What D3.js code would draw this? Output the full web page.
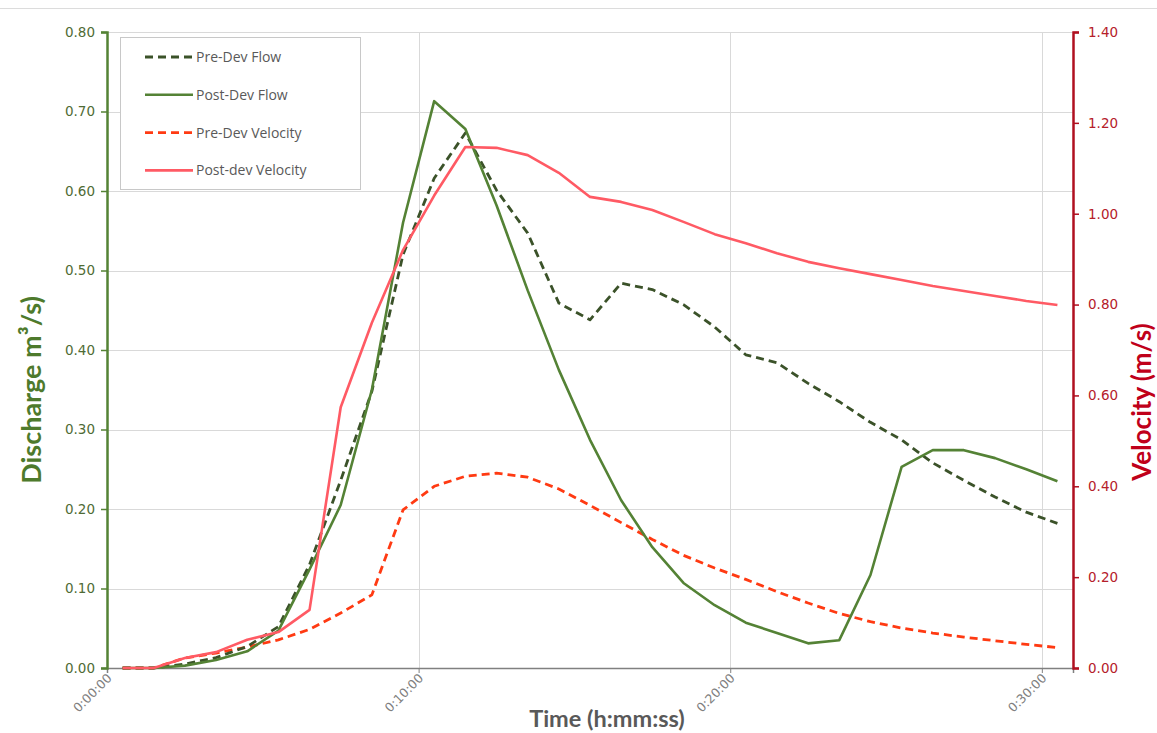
<!DOCTYPE html>
<html>
<head>
<meta charset="utf-8">
<script src="https://cdn.jsdelivr.net/npm/d3@7"></script>
<style>
  html, body { margin: 0; padding: 0; background: #fff; }
  svg { display: block; }
</style>
</head>
<body>
<div id="chart"></div>
<script>
// time of each sample, minutes
const timeMin = [0.5, 1.5, 2.5, 3.5, 4.5, 5.5, 6.5, 7.5, 8.5, 9.5, 10.5, 11.5, 12.5, 13.5, 14.5, 15.5,
  16.5, 17.5, 18.5, 19.5, 20.5, 21.5, 22.5, 23.5, 24.5, 25.5, 26.5, 27.5, 28.5, 29.5, 30.5];

// discharge m3/s
const preDevFlow = [0, 0, 0.005, 0.013, 0.027, 0.052, 0.13, 0.236, 0.348, 0.52, 0.616, 0.673, 0.601, 0.547,
  0.459, 0.438, 0.484, 0.476, 0.457, 0.429, 0.394, 0.384, 0.358, 0.335, 0.309, 0.287, 0.258, 0.236, 0.215, 0.196, 0.182];
const postDevFlow = [0, 0, 0.003, 0.01, 0.021, 0.047, 0.124, 0.205, 0.35, 0.56, 0.713, 0.678, 0.582, 0.475,
  0.375, 0.287, 0.211, 0.152, 0.107, 0.079, 0.057, 0.044, 0.031, 0.035, 0.117, 0.253, 0.274, 0.274, 0.264, 0.25, 0.235];

// velocity m/s
const preDevVel = [0, 0, 0.022, 0.033, 0.046, 0.062, 0.085, 0.121, 0.161, 0.348, 0.40, 0.422, 0.429, 0.42,
  0.394, 0.358, 0.32, 0.283, 0.248, 0.22, 0.195, 0.168, 0.143, 0.12, 0.102, 0.088, 0.077, 0.068, 0.06, 0.052, 0.045];
const postDevVel = [0, 0, 0.022, 0.035, 0.062, 0.079, 0.128, 0.574, 0.76, 0.92, 1.04, 1.147, 1.145, 1.129,
  1.09, 1.037, 1.026, 1.008, 0.982, 0.955, 0.935, 0.913, 0.894, 0.88, 0.867, 0.854, 0.841, 0.83, 0.819, 0.808, 0.799];

const flowTicks = [0, 0.1, 0.2, 0.3, 0.4, 0.5, 0.6, 0.7, 0.8];
const velTicks = [0, 0.2, 0.4, 0.6, 0.8, 1.0, 1.2, 1.4];
const timeTicks = [0, 10, 20, 30];
const timeLabels = ["0:00:00", "0:10:00", "0:20:00", "0:30:00"];

const W = 1157, H = 733;
const m = { left: 107, right: 1073, top: 32, bottom: 668 };

const svg = d3.select("#chart").append("svg").attr("width", W).attr("height", H);

const x = d3.scaleLinear().domain([0, 31]).range([m.left, m.right]);
const yF = d3.scaleLinear().domain([0, 0.8]).range([m.bottom, m.top]);
const yV = d3.scaleLinear().domain([0, 1.4]).range([m.bottom, m.top]);

// frame line at top
svg.append("line").attr("x1", 0).attr("x2", W).attr("y1", 8.5).attr("y2", 8.5)
  .attr("stroke", "#dcdcdc").attr("stroke-width", 1);

// gridlines
const grid = svg.append("g").attr("stroke", "#d9d9d9").attr("stroke-width", 1);
grid.selectAll(".h").data(flowTicks.filter(d => d > 0)).join("line")
  .attr("x1", m.left).attr("x2", m.right)
  .attr("y1", d => Math.round(yF(d)) + 0.5).attr("y2", d => Math.round(yF(d)) + 0.5);
grid.selectAll(".v").data(timeTicks.filter(d => d > 0)).join("line")
  .attr("y1", m.top).attr("y2", m.bottom)
  .attr("x1", d => Math.round(x(d)) + 0.5).attr("x2", d => Math.round(x(d)) + 0.5);

// bottom axis
const xAxis = svg.append("g").attr("transform", `translate(0,${m.bottom})`)
  .call(d3.axisBottom(x).tickValues(timeTicks).tickSize(5).tickFormat(""));
xAxis.select(".domain").attr("stroke", "#808080").attr("stroke-width", 1.5);
xAxis.selectAll(".tick line").attr("stroke", "#808080");
xAxis.selectAll(".tick").append("text")
  .attr("transform", "translate(5,11) rotate(-45)")
  .attr("text-anchor", "end")
  .attr("fill", "#808080")
  .style("font", "12.5px 'DejaVu Sans'")
  .text((d, i) => timeLabels[i]);

// left axis
const leftAxis = svg.append("g").attr("transform", `translate(${m.left},0)`)
  .call(d3.axisLeft(yF).tickValues(flowTicks).tickSize(6).tickPadding(6).tickFormat(d3.format(".2f")));
leftAxis.select(".domain").attr("stroke", "#548235").attr("stroke-width", 2.5);
leftAxis.selectAll(".tick line").attr("stroke", "#548235").attr("stroke-width", 1.5);
leftAxis.selectAll(".tick text").attr("fill", "#4f6b35").style("font", "13.5px 'DejaVu Sans'");

// right axis
const rightAxis = svg.append("g").attr("transform", `translate(${m.right},0)`)
  .call(d3.axisRight(yV).tickValues(velTicks).tickSize(6).tickPadding(9).tickFormat(d3.format(".2f")));
rightAxis.select(".domain").attr("stroke", "#b01020").attr("stroke-width", 2.5);
rightAxis.selectAll(".tick line").attr("stroke", "#b01020").attr("stroke-width", 1.5);
rightAxis.selectAll(".tick text").attr("fill", "#b5202a").style("font", "13.5px 'DejaVu Sans'");

// series
const series = [
  { name: "Pre-Dev Flow", values: preDevFlow, y: yF, color: "#3b5229", width: 2.8, dash: "8,5" },
  { name: "Post-Dev Flow", values: postDevFlow, y: yF, color: "#548235", width: 2.6, dash: null },
  { name: "Pre-Dev Velocity", values: preDevVel, y: yV, color: "#ff3a12", width: 2.8, dash: "8,5" },
  { name: "Post-dev Velocity", values: postDevVel, y: yV, color: "#ff5a64", width: 2.6, dash: null }
];

const drawOrder = [series[2], series[0], series[1], series[3]];
drawOrder.forEach(s => {
  const line = d3.line().x((d, i) => x(timeMin[i])).y(d => s.y(d));
  svg.append("path")
    .datum(s.values)
    .attr("fill", "none")
    .attr("stroke", s.color)
    .attr("stroke-width", s.width)
    .attr("stroke-dasharray", s.dash)
    .attr("stroke-linejoin", "round")
    .attr("d", line);
});

// legend
const lg = svg.append("g");
lg.append("rect").attr("x", 120.5).attr("y", 37.5).attr("width", 240).attr("height", 152)
  .attr("fill", "#fff").attr("stroke", "#c8c8c8");
series.forEach((s, i) => {
  const yy = 57 + i * 37.8;
  lg.append("line").attr("x1", 145).attr("x2", 193).attr("y1", yy).attr("y2", yy)
    .attr("stroke", s.color).attr("stroke-width", s.width).attr("stroke-dasharray", s.dash);
  lg.append("text").attr("x", 196).attr("y", yy).attr("dy", "0.35em")
    .attr("fill", "#595959").style("font", "14px 'Open Sans'").text(s.name);
});

// axis titles
svg.append("text")
  .attr("transform", "translate(41,390) rotate(-90)")
  .attr("text-anchor", "middle")
  .attr("fill", "#4e7a2c")
  .style("font", "bold 27px Lato")
  .text("Discharge m³/s)");

svg.append("text")
  .attr("transform", "translate(1151,402) rotate(-90)")
  .attr("text-anchor", "middle")
  .attr("fill", "#c0001a")
  .style("font", "bold 26px Lato")
  .text("Velocity (m/s)");

svg.append("text")
  .attr("x", 607).attr("y", 727)
  .attr("text-anchor", "middle")
  .attr("fill", "#595959")
  .style("font", "bold 23.5px Lato")
  .text("Time (h:mm:ss)");
</script>
</body>
</html>
